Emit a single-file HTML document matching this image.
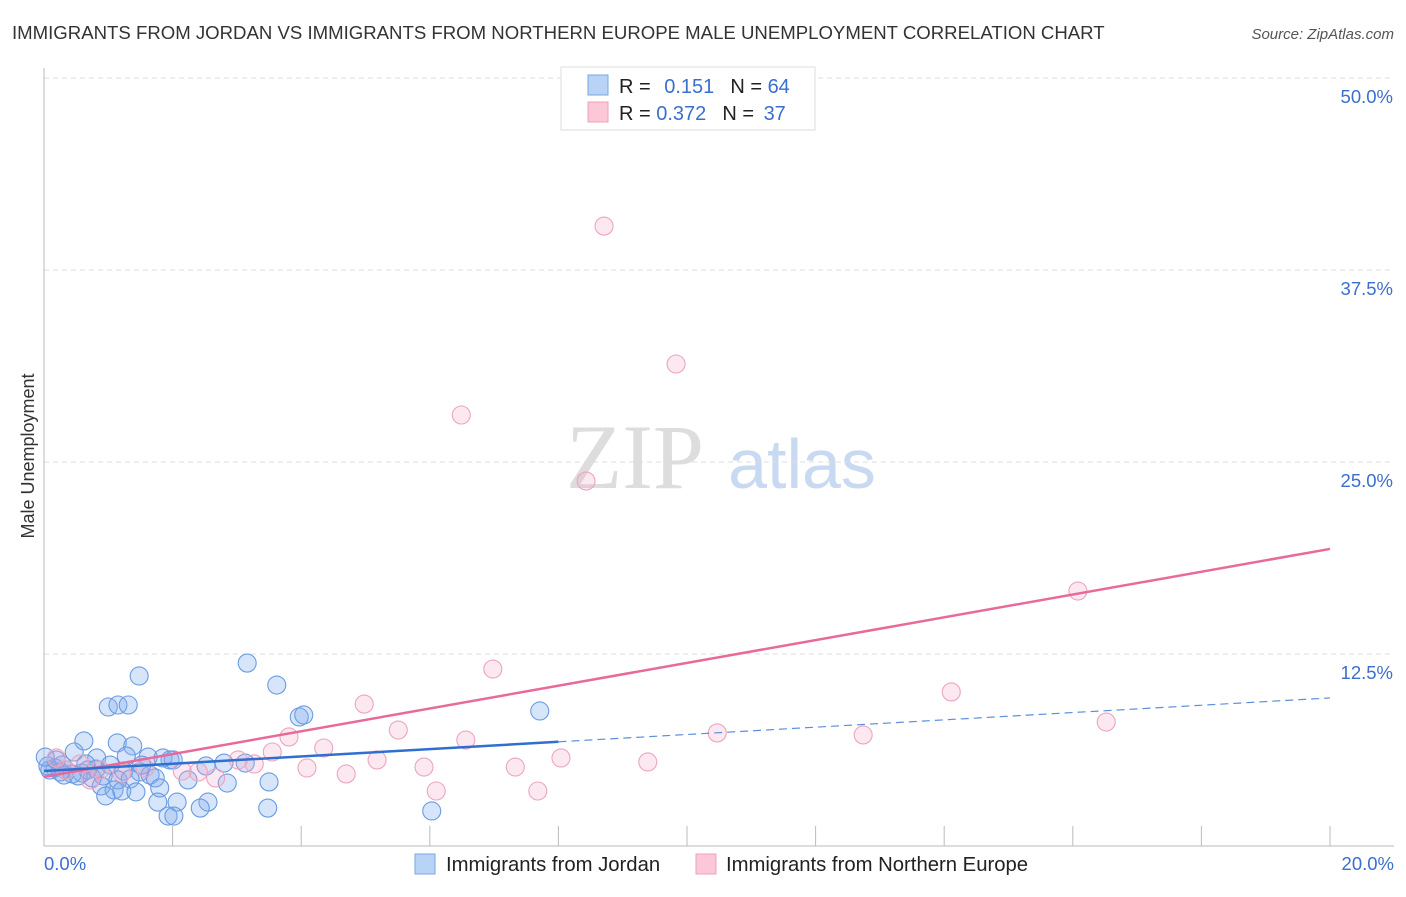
<!DOCTYPE html>
<html><head><meta charset="utf-8"><style>
body{margin:0;background:#fff;font-family:"Liberation Sans",sans-serif}
#c{position:relative;width:1406px;height:892px}
</style></head><body>
<div id="c">
<svg id="s" width="1406" height="892">
<text x="12" y="39" font-size="18.6" fill="#333">IMMIGRANTS FROM JORDAN VS IMMIGRANTS FROM NORTHERN EUROPE MALE UNEMPLOYMENT CORRELATION CHART</text>
<text x="1394" y="39" font-size="15" fill="#555" font-style="italic" text-anchor="end">Source: ZipAtlas.com</text>
<text x="34" y="456" font-size="18" fill="#333" text-anchor="middle" transform="rotate(-90 34 456)">Male Unemployment</text>
<g><text x="635" y="488" font-size="92" font-family="Liberation Serif" fill="#ddd" text-anchor="middle">ZIP</text><text x="802" y="488" font-size="70" fill="#c8d9f2" text-anchor="middle">atlas</text></g>
<g id="grid"></g><g id="axes"></g><g id="pts"></g><g id="lines"></g>
<g>
<rect x="561" y="67" width="254" height="63" fill="#fff" stroke="#ddd"/>
<rect x="588" y="75" width="20" height="20" fill="#b8d3f5" stroke="#7aa6e0"/>
<rect x="588" y="102" width="20" height="20" fill="#fcc8d8" stroke="#eea0b8"/>
<text x="619" y="93" font-size="20" fill="#222">R = <tspan fill="#3a6fcf" dx="8">0.151</tspan><tspan fill="#222" dx="16">N = </tspan><tspan fill="#3a6fcf">64</tspan></text>
<text x="619" y="120" font-size="20" fill="#222">R = <tspan fill="#3a6fcf">0.372</tspan><tspan fill="#222" dx="16">N = </tspan><tspan fill="#3a6fcf" dx="4">37</tspan></text>
</g>
<g>
<rect x="415" y="854" width="20" height="20" fill="#b8d3f5" stroke="#7aa6e0"/>
<text x="446" y="871" font-size="20.3" fill="#222">Immigrants from Jordan</text>
<rect x="696" y="854" width="20" height="20" fill="#fcc8d8" stroke="#eea0b8"/>
<text x="726" y="871" font-size="20.3" fill="#222">Immigrants from Northern Europe</text>
</g>
</svg></div>
<script>
const yTicks=[12.5,25,37.5,50];
const yTickLabels=["12.5%","25.0%","37.5%","50.0%"];
const xTicks=[2,4,6,8,10,12,14,16,18,20];
const blueX=[1.48,3.16,3.62,1.00,1.15,1.31,3.97,4.04,7.71,0.62,1.14,1.38,0.47,0.82,1.28,1.62,1.85,1.96,2.01,2.52,2.80,3.13,0.28,0.17,0.09,0.06,0.34,0.44,0.59,0.68,0.81,1.03,0.92,1.24,1.49,1.65,0.75,1.15,1.34,1.73,0.89,1.09,1.21,1.43,1.80,2.85,3.50,0.96,1.77,2.07,2.55,2.43,3.48,6.03,1.93,2.02,0.19,0.02,0.31,0.53,0.65,1.52,2.24,0.25];
const blueY=[11.07,11.91,10.48,9.05,9.18,9.18,8.40,8.53,8.79,6.84,6.71,6.51,6.12,5.73,5.86,5.79,5.73,5.60,5.60,5.21,5.40,5.40,5.27,5.08,4.95,5.21,4.95,4.69,4.75,4.95,5.01,5.27,4.56,4.88,4.82,4.62,4.43,4.30,4.36,4.43,3.91,3.65,3.58,3.52,3.78,4.10,4.17,3.26,2.86,2.86,2.86,2.47,2.47,2.28,1.95,1.95,5.60,5.79,4.62,4.56,5.34,5.27,4.30,4.82];
const pinkX=[8.71,9.83,6.49,8.43,16.08,6.98,14.11,16.52,4.98,5.51,10.47,12.74,6.56,3.81,4.35,3.55,8.04,9.39,5.18,3.02,3.27,4.09,5.91,7.33,4.70,2.15,2.40,2.67,1.57,1.21,0.87,0.56,0.19,0.34,6.10,7.68,0.72];
const pinkY=[40.36,31.38,28.06,23.76,16.60,11.52,10.03,8.07,9.24,7.55,7.36,7.23,6.90,7.10,6.38,6.12,5.73,5.47,5.60,5.60,5.34,5.08,5.14,5.14,4.69,4.88,4.82,4.43,5.08,4.75,4.95,5.34,5.73,4.95,3.58,3.58,4.30];
const blueTrend=[4.88,9.64];
const pinkTrend=[4.5,19.34];
const blueSolidEnd=8.0;
const X=v=>44+v/20*1286, Y=v=>846-v/12.5*192;
const ns="http://www.w3.org/2000/svg";
function mk(tag,attrs,parent){const e=document.createElementNS(ns,tag);for(const k in attrs)e.setAttribute(k,attrs[k]);document.getElementById(parent).appendChild(e);return e;}
yTicks.forEach((t,i)=>{
 const l=mk('line',{x1:44,x2:1394,y1:Y(t),y2:Y(t),stroke:'#ddd','stroke-dasharray':'5,4'},'grid');
 
 
 const tx=mk('text',{x:1393,y:Y(t)+25,'font-size':18.5,fill:'#3a6fcf','text-anchor':'end'},'grid');
 tx.textContent=yTickLabels[i];
 
 
});
const ax=mk('line',{x1:44,x2:44,y1:68,y2:846,stroke:'#bbb'},'axes');


const bx=mk('line',{x1:44,x2:1394,y1:846,y2:846,stroke:'#bbb'},'axes');


xTicks.forEach(t=>{
 const l=mk('line',{x1:X(t),x2:X(t),y1:826,y2:846,stroke:'#bbb'},'axes');
 
 
});
const xl=mk('text',{x:44,y:870,'font-size':18.5,fill:'#3a6fcf'},'axes');xl.textContent='0.0%';


const xr=mk('text',{x:1394,y:870,'font-size':18.5,fill:'#3a6fcf','text-anchor':'end'},'axes');xr.textContent='20.0%';


blueX.forEach((v,i)=>{
 const c=mk('circle',{cx:X(v),cy:Y(blueY[i]),r:9,fill:'rgba(130,175,240,0.32)',stroke:'#6a9be2','stroke-width':1.1},'pts');
 
 
});
pinkX.forEach((v,i)=>{
 const c=mk('circle',{cx:X(v),cy:Y(pinkY[i]),r:9,fill:'rgba(245,165,195,0.25)',stroke:'#eca5be','stroke-width':1.1},'pts');
 
 
});
const bv=x=>blueTrend[0]+(blueTrend[1]-blueTrend[0])*x/20, pv=x=>pinkTrend[0]+(pinkTrend[1]-pinkTrend[0])*x/20;
const p=mk('line',{x1:X(0),y1:Y(pv(0)),x2:X(20),y2:Y(pv(20)),stroke:'#e8699a','stroke-width':2.5},'lines');


const b=mk('line',{x1:X(0),y1:Y(bv(0)),x2:X(blueSolidEnd),y2:Y(bv(blueSolidEnd)),stroke:'#2f6fd0','stroke-width':2.5},'lines');


const bd=mk('line',{x1:X(blueSolidEnd),y1:Y(bv(blueSolidEnd)),x2:X(20),y2:Y(bv(20)),stroke:'#5c8fdd','stroke-width':1.2,'stroke-dasharray':'8,5'},'lines');


</script>
</body></html>
